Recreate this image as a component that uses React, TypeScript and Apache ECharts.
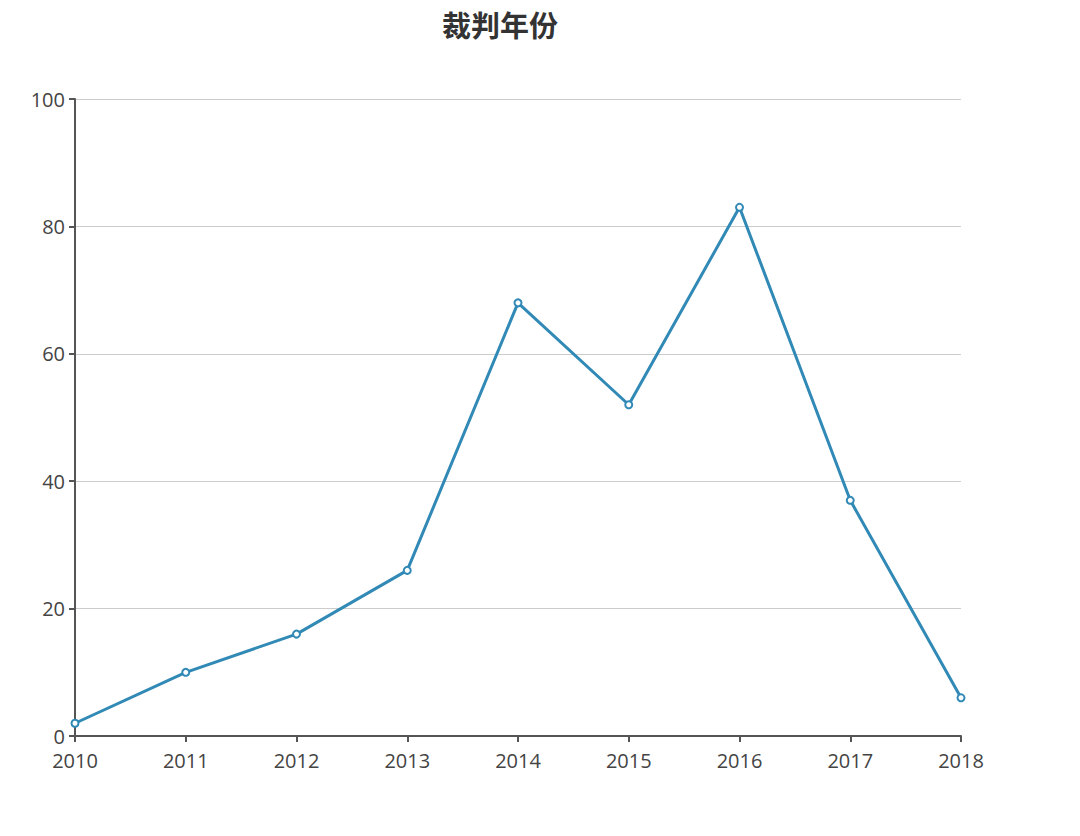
import React, { useEffect, useRef } from "react";
import * as echarts from "echarts";

const titleText = "裁判年份";
const years = ["2010", "2011", "2012", "2013", "2014", "2015", "2016", "2017", "2018"];
const counts = [2, 10, 16, 26, 68, 52, 83, 37, 6];

export default function App() {
  const ref = useRef<HTMLDivElement>(null);
  useEffect(() => {
    const chart = echarts.init(ref.current!, null, { renderer: "svg" });
    chart.setOption({
      animation: false,
      backgroundColor: "#ffffff",
      title: {
        text: titleText,
        left: 437,
        top: 4,
        textStyle: { fontSize: 29, fontWeight: "bold", color: "#333", fontFamily: "Noto Sans CJK SC" },
      },
      grid: { left: 75, right: 119, top: 99, bottom: 100, containLabel: false },
      xAxis: {
        type: "category",
        data: years,
        boundaryGap: false,
        axisLine: { lineStyle: { color: "#555", width: 2 } },
        axisTick: { show: true, length: 6, lineStyle: { color: "#555", width: 2 } },
        axisLabel: { fontSize: 20, lineHeight: 18, color: "#444", margin: 15, fontFamily: "Open Sans" },
      },
      yAxis: {
        type: "value",
        min: 0,
        max: 100,
        interval: 20,
        axisLine: { show: true, lineStyle: { color: "#555", width: 2 } },
        axisTick: { show: true, length: 6, lineStyle: { color: "#555", width: 2 } },
        axisLabel: { fontSize: 20, lineHeight: 18, color: "#444", margin: 10, fontFamily: "Open Sans" },
        splitLine: { lineStyle: { color: "#ccc", width: 1 } },
      },
      series: [
        {
          type: "line",
          data: counts,
          symbol: "emptyCircle",
          symbolSize: 7,
          lineStyle: { color: "#3189b6", width: 3 },
          itemStyle: { color: "#3189b6", borderWidth: 1.5 },
        },
      ],
    });
    return () => chart.dispose();
  }, []);
  return (
    <div
      ref={ref}
      style={{ position: "absolute", left: 0, top: 0, width: 1080, height: 836 }}
    />
  );
}
